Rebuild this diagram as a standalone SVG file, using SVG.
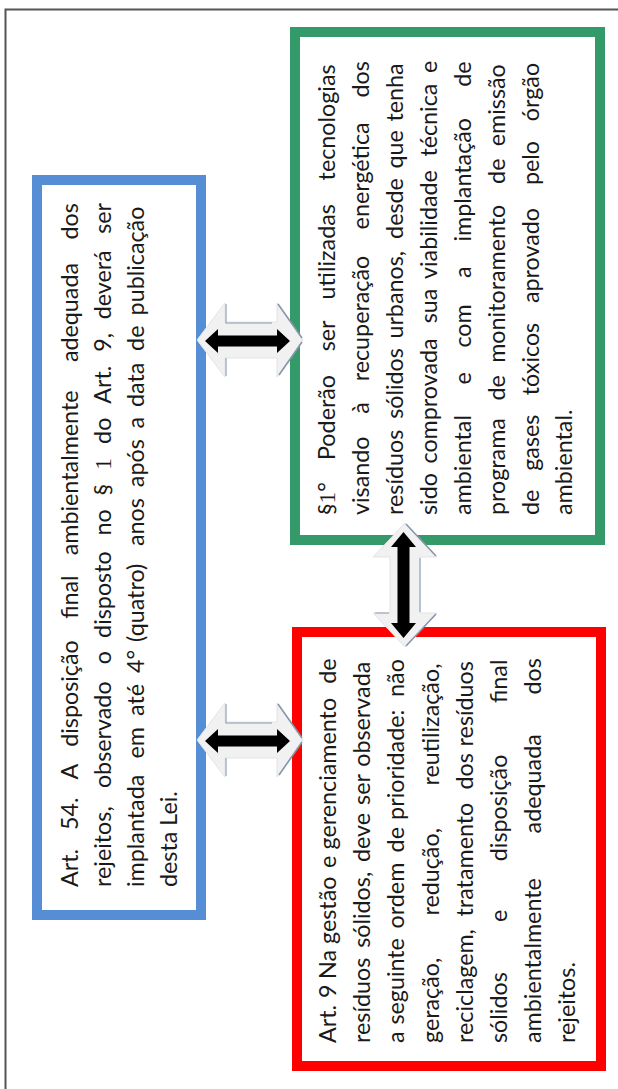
<svg xmlns="http://www.w3.org/2000/svg" width="618" height="1089" viewBox="0 0 618 1089">
<style>
.t{font-family:Lato,"Liberation Sans",sans-serif;font-size:23.3px;fill:#1a1a1a}
.s{font-family:"Liberation Serif",serif}
.box{fill:#fff;stroke-width:10}
.lite{fill:#f1f1f1;stroke:#e3e3e3;stroke-width:1}
.edgeA{fill:none;stroke:#a9b7c8;stroke-width:1.6}
.edgeB{fill:none;stroke:#8797ab;stroke-width:1.6}
.blk{fill:#000}
</style>
<defs>
<g id="harrow">
<polygon class="lite" points="197,340 225,303 225,322 277,322 277,303 303,340 277,377 277,358 225,358 225,377"/>
<path class="edgeA" d="M226,304 V323 H272 M226,358 V376"/>
<path class="edgeB" d="M278,304 L302,338 M302,342 L279,375"/>
<polygon class="blk" points="205,341 218,329 218,335.5 277,335.5 277,329 290,341 277,353 277,346.5 218,346.5 218,353"/>
</g>
</defs>
<rect x="0" y="0" width="618" height="1089" fill="#fff"/>
<rect x="5.5" y="9.5" width="700" height="1200" fill="none" stroke="#555" stroke-width="2"/>

<g id="box-art54">
<rect class="box" x="37" y="180" width="164" height="735" stroke="#558ed5"/>
<g transform="translate(0,887) rotate(-90)">
<text class="t" y="78"><tspan x="0">Art. </tspan><tspan x="57">54. </tspan><tspan x="107.5">A </tspan><tspan x="140.2">disposição </tspan><tspan x="268.2">final </tspan><tspan x="331.7">ambientalmente </tspan><tspan x="524.9">adequada </tspan><tspan x="647.4">dos</tspan></text>
<text class="t" y="111"><tspan x="0">rejeitos, </tspan><tspan x="98.9">observado </tspan><tspan x="222.7">o </tspan><tspan x="249.1">disposto </tspan><tspan x="351.5">no </tspan><tspan x="391.6">§ </tspan><tspan x="417.2" class="s">1 </tspan><tspan x="443.1">do </tspan><tspan x="483.2">Art. </tspan><tspan x="535.3">9, </tspan><tspan x="567.7">deverá </tspan><tspan x="653.2">ser</tspan></text>
<text class="t" y="144"><tspan x="0">implantada </tspan><tspan x="128.5">em </tspan><tspan x="171.1">até </tspan><tspan x="214">4° </tspan><tspan x="245.1">(quatro) </tspan><tspan x="341">anos </tspan><tspan x="399.8">após </tspan><tspan x="458.6">a </tspan><tspan x="480">data </tspan><tspan x="536.1">de </tspan><tspan x="571.6">publicação</tspan></text>
<text class="t" y="177" x="0">desta Lei.</text>
</g>
</g>

<g id="box-par1">
<rect class="box" x="295" y="32" width="305" height="508" stroke="#359a69"/>
<g transform="translate(0,515) rotate(-90)">
<text class="t" y="335"><tspan x="0">§</tspan><tspan class="s">1</tspan><tspan>° </tspan><tspan x="55">Poderão </tspan><tspan x="163.7">ser </tspan><tspan x="215.6">utilizadas </tspan><tspan x="334.6">tecnologias</tspan></text>
<text class="t" y="369"><tspan x="0">visando </tspan><tspan x="101.2">à </tspan><tspan x="133.7">recuperação </tspan><tspan x="285.6">energética </tspan><tspan x="417.5">dos</tspan></text>
<text class="t" y="403"><tspan x="0">resíduos </tspan><tspan x="96.2">sólidos </tspan><tspan x="176.4">urbanos, </tspan><tspan x="276.1">desde </tspan><tspan x="346.4">que </tspan><tspan x="393.5">tenha</tspan></text>
<text class="t" y="437"><tspan x="0">sido </tspan><tspan x="51.5">comprovada </tspan><tspan x="191.7">sua </tspan><tspan x="236">viabilidade </tspan><tspan x="358.4">técnica </tspan><tspan x="442.1">e</tspan></text>
<text class="t" y="471"><tspan x="0">ambiental </tspan><tspan x="130.5">e </tspan><tspan x="167.4">com </tspan><tspan x="236.9">a </tspan><tspan x="273.5">implantação </tspan><tspan x="428.3">de</tspan></text>
<text class="t" y="504.5"><tspan x="0">programa </tspan><tspan x="114.5">de </tspan><tspan x="152.2">monitoramento </tspan><tspan x="331.1">de </tspan><tspan x="368.8">emissão</tspan></text>
<text class="t" y="538.5"><tspan x="0">de </tspan><tspan x="44.2">gases </tspan><tspan x="119.8">tóxicos </tspan><tspan x="211.9">aprovado </tspan><tspan x="329.9">pelo </tspan><tspan x="393.8">órgão</tspan></text>
<text class="t" y="572.3" x="0">ambiental.</text>
</g>
</g>

<g id="box-art9">
<rect class="box" x="297" y="632" width="304" height="434" stroke="#ff0000"/>
<g transform="translate(0,1043) rotate(-90)">
<text class="t" y="336"><tspan x="0">Art. </tspan><tspan x="45.1">9 </tspan><tspan x="64">Na </tspan><tspan x="99">gestão </tspan><tspan x="174.9">e </tspan><tspan x="193.5">gerenciamento </tspan><tspan x="359.3">de</tspan></text>
<text class="t" y="370.2"><tspan x="0">resíduos </tspan><tspan x="95.2">sólidos, </tspan><tspan x="180.9">deve </tspan><tspan x="238.1">ser </tspan><tspan x="276.2">observada</tspan></text>
<text class="t" y="404.4"><tspan x="0">a </tspan><tspan x="18.4">seguinte </tspan><tspan x="114.6">ordem </tspan><tspan x="190.6">de </tspan><tspan x="223.1">prioridade: </tspan><tspan x="346.1">não</tspan></text>
<text class="t" y="438.6"><tspan x="0">geração, </tspan><tspan x="127.4">redução, </tspan><tspan x="257.4">reutilização,</tspan></text>
<text class="t" y="472.8"><tspan x="0">reciclagem, </tspan><tspan x="126.5">tratamento </tspan><tspan x="253.4">dos </tspan><tspan x="296.6">resíduos</tspan></text>
<text class="t" y="507"><tspan x="0">sólidos </tspan><tspan x="121.1">e </tspan><tspan x="181.8">disposição </tspan><tspan x="340">final</tspan></text>
<text class="t" y="541.2"><tspan x="0">ambientalmente </tspan><tspan x="209.6">adequada </tspan><tspan x="348.5">dos</tspan></text>
<text class="t" y="575.4" x="0">rejeitos.</text>
</g>
</g>

<g id="connectors">
<use href="#harrow"/>
<use href="#harrow" transform="translate(0,400)"/>
<g id="varrow">
<polygon class="lite" points="405,523 437,557 420,557 420,613 437,613 405,647 373,613 390,613 390,557 373,557"/>
<path class="edgeB" d="M406,524 L436,556 M436,614 L406,646"/>
<path class="edgeA" d="M420,558 V612 M375,613 H389"/>
<polygon class="blk" points="403.5,532 416,547 409.5,547 409.5,623 416,623 403.5,638 391,623 397.5,623 397.5,547 391,547"/>
</g>
</g>
</svg>
